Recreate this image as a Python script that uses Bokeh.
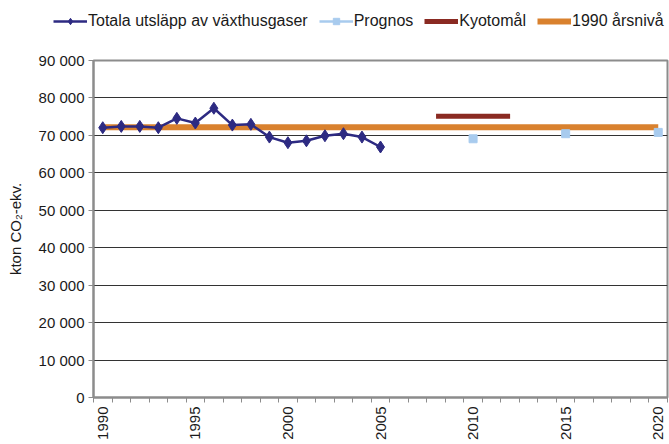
import math
from bokeh.plotting import figure
from bokeh.models import (FixedTicker, CustomJSTickFormatter, Legend, LegendItem,
                          Range1d)
from bokeh.embed import file_html
from bokeh.resources import INLINE

# ---- data ----
years_total = [1990, 1991, 1992, 1993, 1994, 1995, 1996, 1997, 1998, 1999,
               2000, 2001, 2002, 2003, 2004, 2005]
total = [72050, 72400, 72400, 72050, 74550, 73300, 77250, 72750, 72950, 69550,
         68050, 68550, 69900, 70450, 69550, 66900]
prognos_years = [2010, 2015, 2020]
prognos = [69100, 70450, 70800]
kyoto_years = [2008, 2009, 2010, 2011, 2012]
kyoto = [75100, 75100, 75100, 75100, 75100]
level_years = [1990, 2020]
level_1990 = [72200, 72200]
x_tick_labels = [1990, 1995, 2000, 2005, 2010, 2015, 2020]
y_ticks = [0, 10000, 20000, 30000, 40000, 50000, 60000, 70000, 80000, 90000]

all_years = list(range(1990, 2021))
prognos_series = [prognos[prognos_years.index(y)] if y in prognos_years else math.nan
                  for y in all_years]

FONT = "Liberation Sans"
NAVY = "#2D2A82"
LBLUE = "#A8CBEE"
DRED = "#8A2A22"
ORANGE = "#D9812E"
AXIS_GRAY = "#8C8C8C"


def draw_series(fig):
    r = {}
    r["level"] = fig.line(level_years, level_1990, line_color=ORANGE, line_width=6)
    r["kyoto"] = fig.line(kyoto_years, kyoto, line_color=DRED, line_width=5)
    r["prog_l"] = fig.line(all_years, prognos_series, line_color=LBLUE, line_width=2.5)
    r["prog_s"] = fig.scatter(prognos_years, prognos, marker="square", size=8,
                              fill_color=LBLUE, line_color=LBLUE)
    r["tot_l"] = fig.line(years_total, total, line_color=NAVY, line_width=2.5)
    r["tot_s"] = fig.scatter(years_total, total, marker="diamond", size=12,
                             fill_color=NAVY, line_color=NAVY)
    return r


# ---- main chart ----
p = figure(width=669, height=414, output_backend="svg", toolbar_location=None,
           x_range=Range1d(1989.5, 2020.5), y_range=Range1d(0, 90000),
           min_border_left=93, min_border_right=2, min_border_top=30,
           min_border_bottom=47)
p.background_fill_color = "white"
p.border_fill_color = "white"
p.outline_line_color = AXIS_GRAY
p.outline_line_width = 2

p.xgrid.visible = False
p.ygrid.ticker = FixedTicker(ticks=y_ticks)
p.ygrid.grid_line_color = "#333333"
p.ygrid.grid_line_width = 1

ya = p.yaxis[0]
ya.ticker = FixedTicker(ticks=y_ticks)
ya.formatter = CustomJSTickFormatter(code="""
var s = Math.round(tick).toString();
return s.replace(/\\B(?=(\\d{3})+(?!\\d))/g, ' ');
""")
ya.axis_line_color = AXIS_GRAY
ya.axis_line_width = 2
ya.major_tick_line_color = AXIS_GRAY
ya.major_tick_out = 5
ya.major_tick_in = 0
ya.minor_tick_line_color = None
ya.major_label_text_font = FONT
ya.major_label_text_font_size = "15px"
ya.major_label_text_color = "#1a1a1a"
ya.major_label_standoff = 4
ya.axis_label = "kton CO\u2082-ekv."
ya.axis_label_text_font = FONT
ya.axis_label_text_font_size = "15px"
ya.axis_label_text_font_style = "normal"
ya.axis_label_text_color = "#1a1a1a"
ya.axis_label_standoff = 12

xa = p.xaxis[0]
xa.ticker = FixedTicker(ticks=x_tick_labels,
                        minor_ticks=[y - 0.5 for y in all_years] + [2020.5])
xa.axis_line_color = AXIS_GRAY
xa.axis_line_width = 2
xa.major_tick_line_color = None
xa.major_tick_out = 0
xa.major_tick_in = 0
xa.minor_tick_line_color = AXIS_GRAY
xa.minor_tick_out = 5
xa.minor_tick_in = 0
xa.major_label_orientation = math.pi / 2
xa.major_label_text_font = FONT
xa.major_label_text_font_size = "15px"
xa.major_label_text_color = "#1a1a1a"
xa.major_label_standoff = 4

draw_series(p)

# ---- legend strip (same series, drawn out of view; only its legend shows) ----
lg = figure(width=669, height=30, output_backend="svg", toolbar_location=None,
            x_range=Range1d(0, 1), y_range=Range1d(0, 1),
            min_border=0, x_axis_type=None, y_axis_type=None)
lg.outline_line_color = None
lg.background_fill_color = "white"
lg.border_fill_color = "white"
lg.grid.visible = False
r = draw_series(lg)

legend = Legend(items=[
    LegendItem(label="Totala utsläpp av växthusgaser", renderers=[r["tot_l"], r["tot_s"]]),
    LegendItem(label="Prognos", renderers=[r["prog_l"], r["prog_s"]]),
    LegendItem(label="Kyotomål", renderers=[r["kyoto"]]),
    LegendItem(label="1990 årsnivå", renderers=[r["level"]]),
], orientation="horizontal", location=(53, 0))
legend.glyph_width = 34
legend.glyph_height = 16
legend.label_standoff = 1
legend.spacing = 11
legend.padding = 0
legend.margin = 0
legend.border_line_alpha = 0
legend.background_fill_alpha = 0
legend.label_text_font = FONT
legend.label_text_font_size = "16px"
legend.label_text_color = "#1a1a1a"
lg.add_layout(legend, "center")

# two independent roots stacked on the page (no frame alignment between them)
open("out.html", "w").write(file_html([lg, p], INLINE))
